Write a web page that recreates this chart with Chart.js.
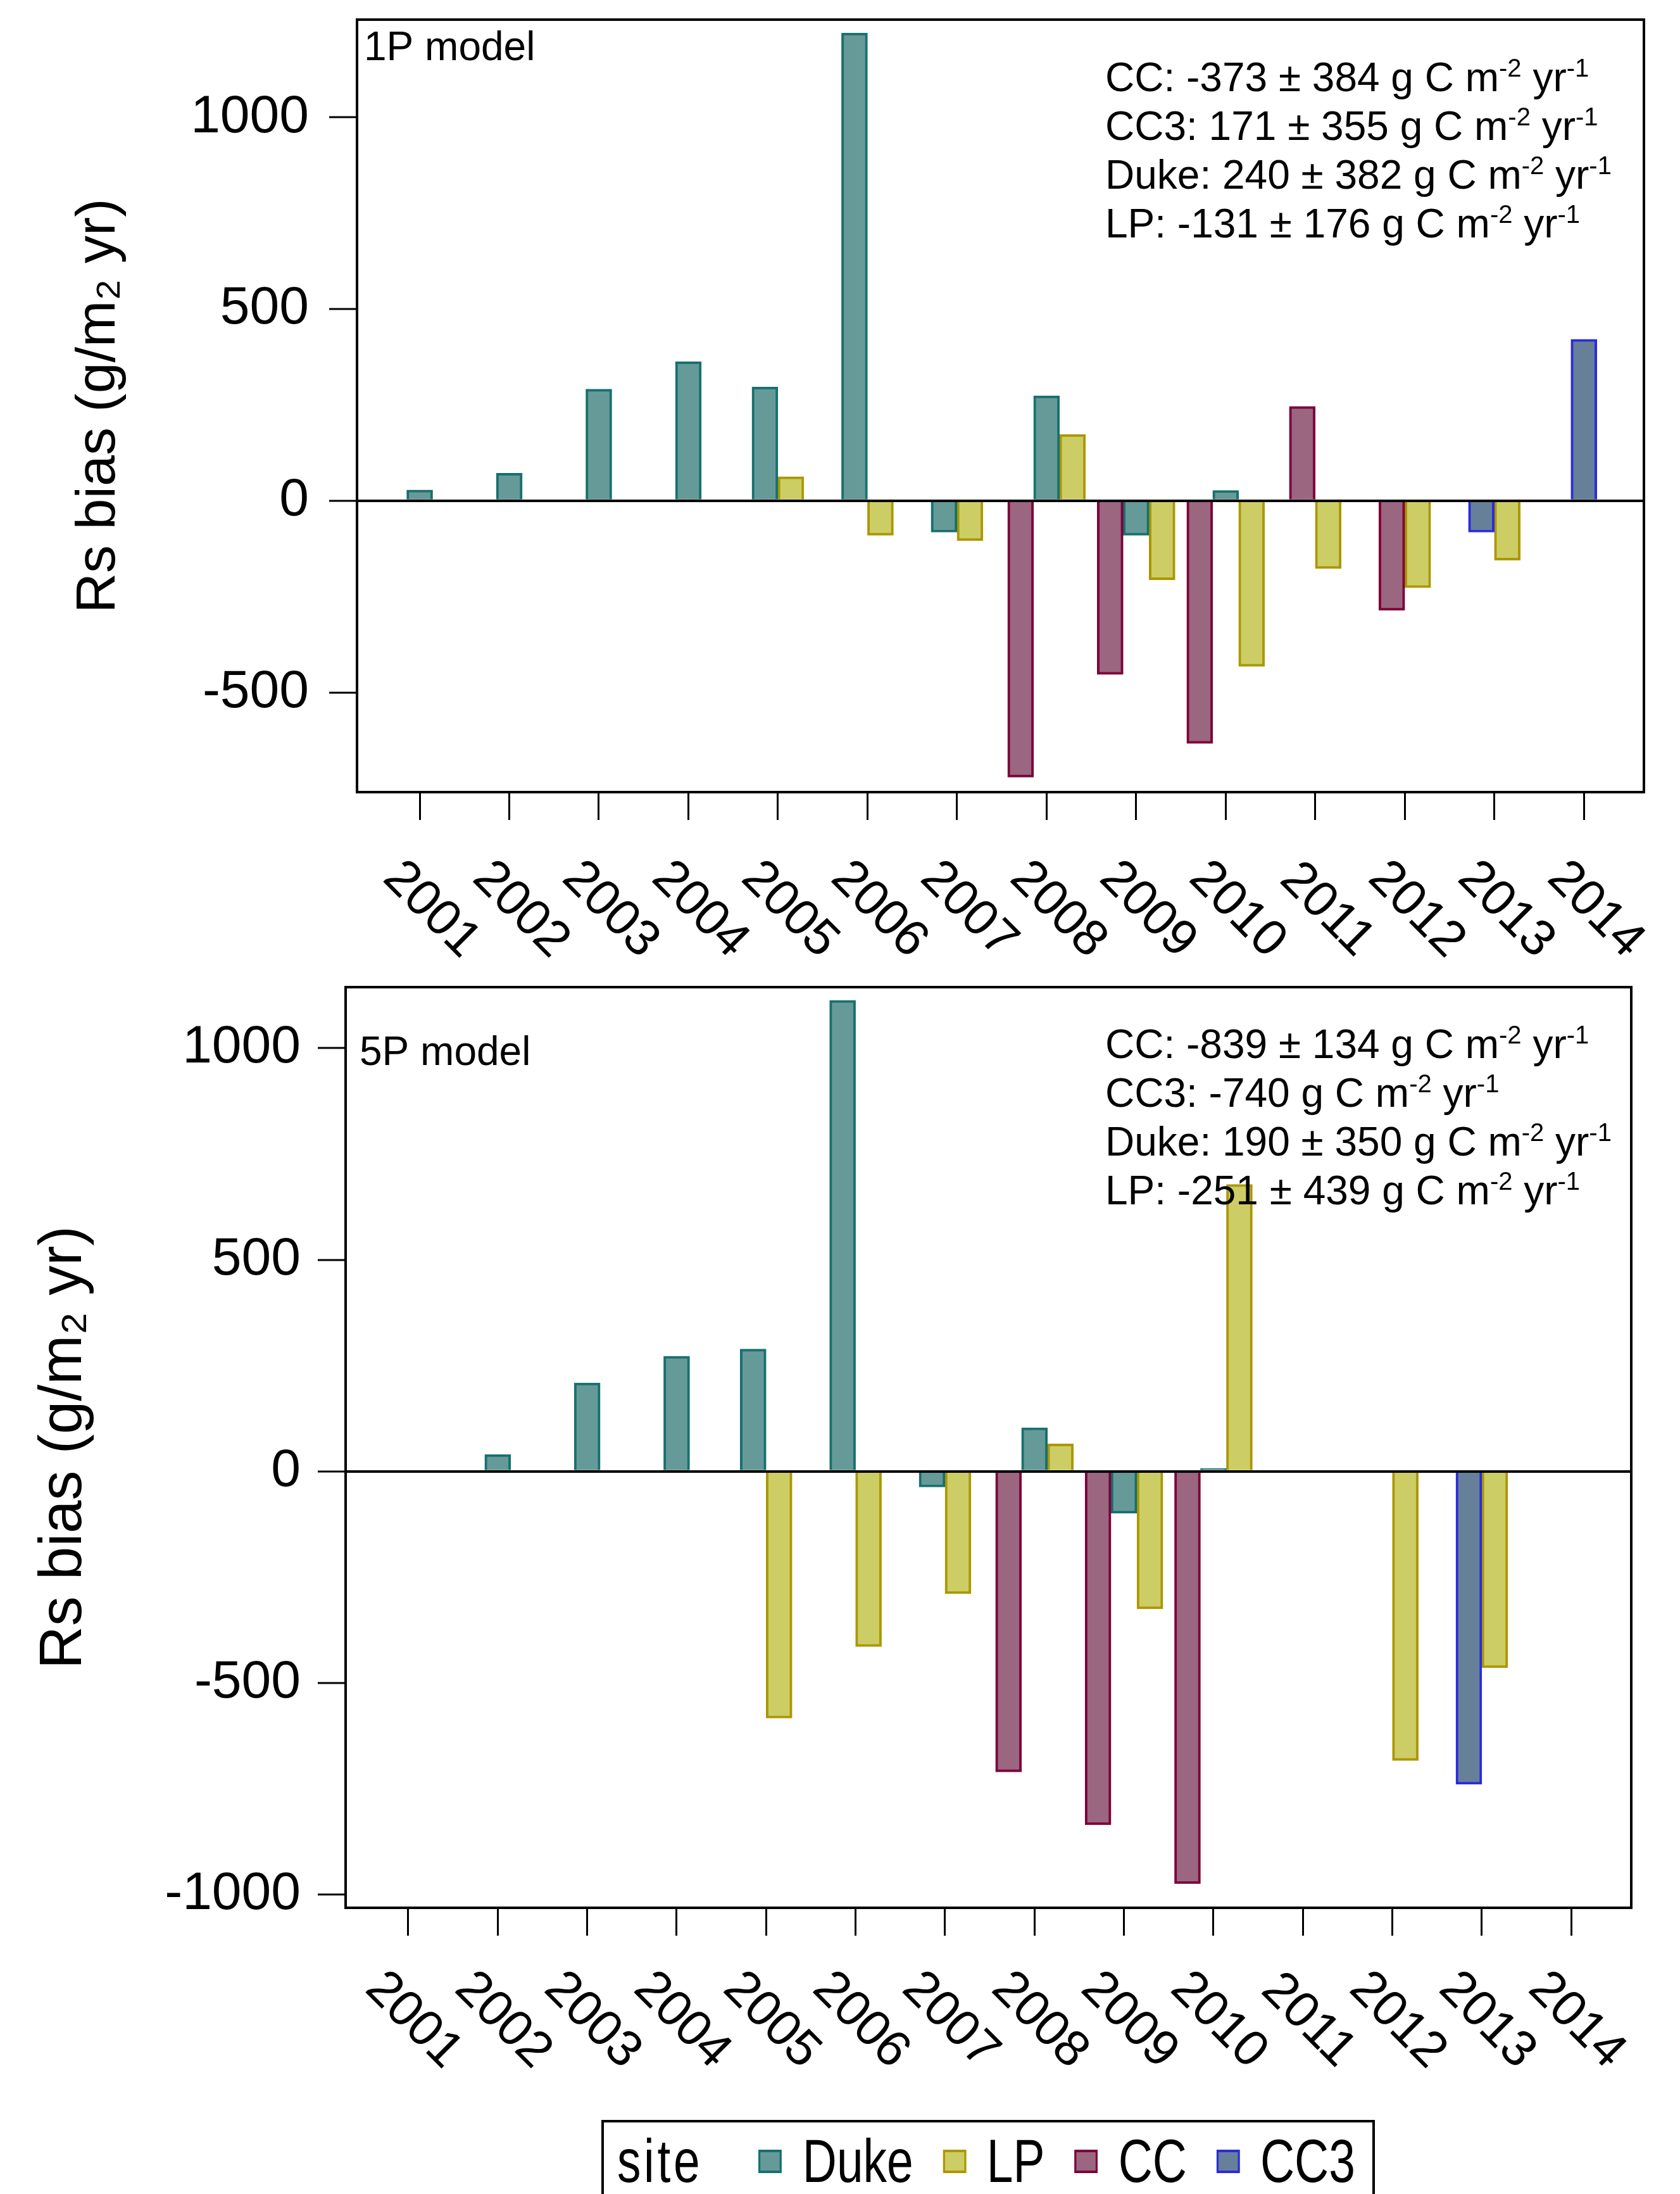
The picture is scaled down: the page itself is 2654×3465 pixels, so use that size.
<!DOCTYPE html>
<html>
<head>
<meta charset="utf-8">
<title>Rs bias by site</title>
<script src="https://cdn.jsdelivr.net/npm/chart.js@4.4.1/dist/chart.umd.min.js"></script>
<style>
  body { margin: 0; width: 2654px; height: 3465px; background: #fff; overflow: hidden; position: relative;
         font-family: "Liberation Sans", Arial, sans-serif; }
  canvas { position: absolute; left: 0; }
  #legend { position: absolute; left: 950px; top: 3348px; width: 1214px; height: 200px; border: 4px solid #000; }
  #legend .row { position: absolute; left: 21px; top: 13px; display: flex; align-items: center;
                 transform: scaleX(0.78); transform-origin: 0 50%; font-size: 96px; line-height: 96px; white-space: nowrap; }
  #legend .sw { width: 39px; height: 29px; border: 4px solid; margin-right: 42px; }
  #legend .lab { margin-right: 60px; }
  #legend .ttl { margin-right: 113px; letter-spacing: 6px; }
</style>
</head>
<body>
<canvas id="top"></canvas>
<canvas id="bottom"></canvas>
<div id="legend"><div class="row" id="legendRow"></div></div>
<script>
  const years = [2001, 2002, 2003, 2004, 2005, 2006, 2007, 2008, 2009, 2010, 2011, 2012, 2013, 2014];

  // order of bars inside a year cluster, and order in the legend
  const clusterOrder = ['CC', 'CC3', 'Duke', 'LP'];
  const legendOrder = ['Duke', 'LP', 'CC', 'CC3'];

  const fills = { Duke: '#669a99', LP: '#cdcd66', CC: '#9a6680', CC3: '#66809a' };
  const edges = { Duke: '#16706e', LP: '#ab9700', CC: '#7d0039', CC3: '#2b2bdc' };

  // 1P model
  const duke1P = [28, 72, 291, 363, 297, 1220, -82, 274, -90, 27, null, null, null, null];
  const lp1P   = [null, null, null, null, 63, -90, -104, 173, -206, -432, -177, -227, -155, null];
  const cc1P   = [null, null, null, null, null, null, null, -721, -453, -633, 246, -286, null, null];
  const cc31P  = [null, null, null, null, null, null, null, null, null, null, null, null, -82, 421];

  // 5P model
  const duke5P = [null, 40, 209, 272, 289, 1113, -37, 103, -99, 7, null, null, null, null];
  const lp5P   = [null, null, null, null, -583, -414, -289, 65, -325, 678, null, -683, -464, null];
  const cc5P   = [null, null, null, null, null, null, null, -710, -835, -974, null, 0, null, null];
  const cc35P  = [null, null, null, null, null, null, null, null, null, null, null, null, -739, null];

  const yTicks1P = [-500, 0, 500, 1000];
  const yTicks5P = [-1000, -500, 0, 500, 1000];

  const notes1P = [
    'CC: -373 ± 384 g C m^-2^ yr^-1',
    'CC3: 171 ± 355 g C m^-2^ yr^-1',
    'Duke: 240 ± 382 g C m^-2^ yr^-1',
    'LP: -131 ± 176 g C m^-2^ yr^-1'
  ];
  const notes5P = [
    'CC: -839 ± 134 g C m^-2^ yr^-1',
    'CC3: -740 g C m^-2^ yr^-1',
    'Duke: 190 ± 350 g C m^-2^ yr^-1',
    'LP: -251 ± 439 g C m^-2^ yr^-1'
  ];

  const yTitle = 'Rs bias (g/m₂ yr)';
  const FONT = '"Liberation Sans", Arial, sans-serif';
  const W = 2654;
  const barPx = 41;

  // text with ^superscript^ parts
  function drawRich(ctx, line, x, y, size) {
    line.split('^').forEach((part, i) => {
      const sup = i % 2 === 1;
      ctx.font = (sup ? Math.round(size * 0.62) : size) + 'px ' + FONT;
      ctx.fillText(part, x, sup ? y - size * 0.36 : y);
      x += ctx.measureText(part).width;
    });
  }

  function makeChart(id, cfg) {
    const canvas = document.getElementById(id);
    canvas.width = W;
    canvas.height = cfg.height;
    canvas.style.top = cfg.top + 'px';

    const datasets = clusterOrder.map(name => ({
      label: name,
      data: years.map((yr, i) => ({ x: yr, y: cfg.series[name][i] })),
      backgroundColor: fills[name],
      borderColor: edges[name],
      borderWidth: 4,
      barThickness: barPx,
      skipNull: true
    }));

    const extras = {
      id: 'extras',
      afterDatasetsDraw(chart) {
        const { ctx, chartArea: a } = chart;
        ctx.save();
        ctx.fillStyle = '#000';
        ctx.textAlign = 'left';
        ctx.textBaseline = 'alphabetic';
        ctx.font = '64px ' + FONT;
        ctx.fillText(cfg.model, a.left + cfg.modelPos[0], a.top + cfg.modelPos[1]);
        cfg.notes.forEach((line, i) => {
          drawRich(ctx, line, a.left + cfg.notePos[0], a.top + cfg.notePos[1] + i * 77, 64);
        });
        ctx.lineWidth = 4;
        ctx.strokeStyle = '#000';
        ctx.strokeRect(a.left, a.top, a.right - a.left, a.bottom - a.top);
        ctx.restore();
      },
      afterDraw(chart) {
        const { ctx, chartArea: a, scales: { x } } = chart;
        ctx.save();
        ctx.fillStyle = '#000';
        ctx.font = '80px ' + FONT;
        ctx.textAlign = 'center';
        ctx.textBaseline = 'middle';
        years.forEach(yr => {
          ctx.save();
          ctx.translate(x.getPixelForValue(yr) + cfg.labelDx, a.bottom + cfg.labelDy);
          ctx.rotate(Math.PI / 4);
          ctx.fillText(String(yr), 0, 0);
          ctx.restore();
        });
        ctx.restore();
      }
    };

    const noPad = s => { s.paddingTop = 0; s.paddingBottom = 0; s.paddingLeft = 0; s.paddingRight = 0; };

    return new Chart(canvas, {
      type: 'bar',
      data: { datasets },
      plugins: [extras],
      options: {
        responsive: false,
        maintainAspectRatio: false,
        devicePixelRatio: 1,
        animation: false,
        events: [],
        grouped: true,
        categoryPercentage: 1,
        barPercentage: 1,
        layout: { padding: { left: 0, top: cfg.areaTop, right: W - cfg.areaRight, bottom: 0 } },
        plugins: { legend: { display: false }, tooltip: { enabled: false } },
        scales: {
          x: {
            type: 'linear',
            offset: false,
            min: 2000.30,
            max: 2014.67,
            afterBuildTicks: s => { s.ticks = years.map(v => ({ value: v })); },
            afterFit: s => { s.height = cfg.height - cfg.areaBottom; noPad(s); },
            ticks: { display: false },
            border: { display: false },
            grid: { offset: false, drawOnChartArea: false, drawTicks: true, tickLength: 44, tickWidth: 3,
                    tickColor: '#000', color: 'rgba(0,0,0,0)' }
          },
          y: {
            min: cfg.yMin,
            max: cfg.yMax,
            afterBuildTicks: s => { s.ticks = cfg.yTicks.map(v => ({ value: v })); },
            afterFit: s => { s.width = cfg.areaLeft; noPad(s); },
            ticks: { color: '#000', padding: cfg.tickPad, font: { family: FONT, size: 84 }, callback: v => String(v) },
            border: { display: false },
            grid: {
              z: 1,
              lineWidth: 4,
              tickWidth: 3,
              tickLength: 44,
              tickColor: '#000',
              color: c => (c.tick && c.tick.value === 0) ? '#000' : 'rgba(0,0,0,0)'
            },
            title: {
              display: true,
              text: yTitle,
              color: '#000',
              padding: { top: cfg.titlePad, bottom: 0 },
              font: { family: FONT, size: cfg.titleSize, lineHeight: 1 }
            }
          }
        }
      }
    });
  }

  makeChart('top', {
    top: 0, height: 1540,
    areaTop: 31, areaLeft: 564, areaRight: 2597, areaBottom: 1251,
    yMin: -760, yMax: 1255, yTicks: yTicks1P,
    series: { Duke: duke1P, LP: lp1P, CC: cc1P, CC3: cc31P },
    titleSize: 88, titlePad: 113, tickPad: 32,
    labelDx: 18, labelDy: 186,
    model: '1P model', modelPos: [11, 64],
    notes: notes1P, notePos: [1182, 113]
  });

  makeChart('bottom', {
    top: 1500, height: 1840,
    areaTop: 59, areaLeft: 546, areaRight: 2577, areaBottom: 1513,
    yMin: -1031, yMax: 1144, yTicks: yTicks5P,
    series: { Duke: duke5P, LP: lp5P, CC: cc5P, CC3: cc35P },
    titleSize: 94, titlePad: 55, tickPad: 27,
    labelDx: 8, labelDy: 178,
    model: '5P model', modelPos: [22, 123],
    notes: notes5P, notePos: [1200, 112]
  });

  // shared legend
  const row = document.getElementById('legendRow');
  const ttl = document.createElement('span');
  ttl.className = 'ttl';
  ttl.textContent = 'site';
  row.appendChild(ttl);
  legendOrder.forEach(name => {
    const sw = document.createElement('span');
    sw.className = 'sw';
    sw.style.background = fills[name];
    sw.style.borderColor = edges[name];
    row.appendChild(sw);
    const lab = document.createElement('span');
    lab.className = 'lab';
    lab.textContent = name;
    row.appendChild(lab);
  });
</script>
</body>
</html>
